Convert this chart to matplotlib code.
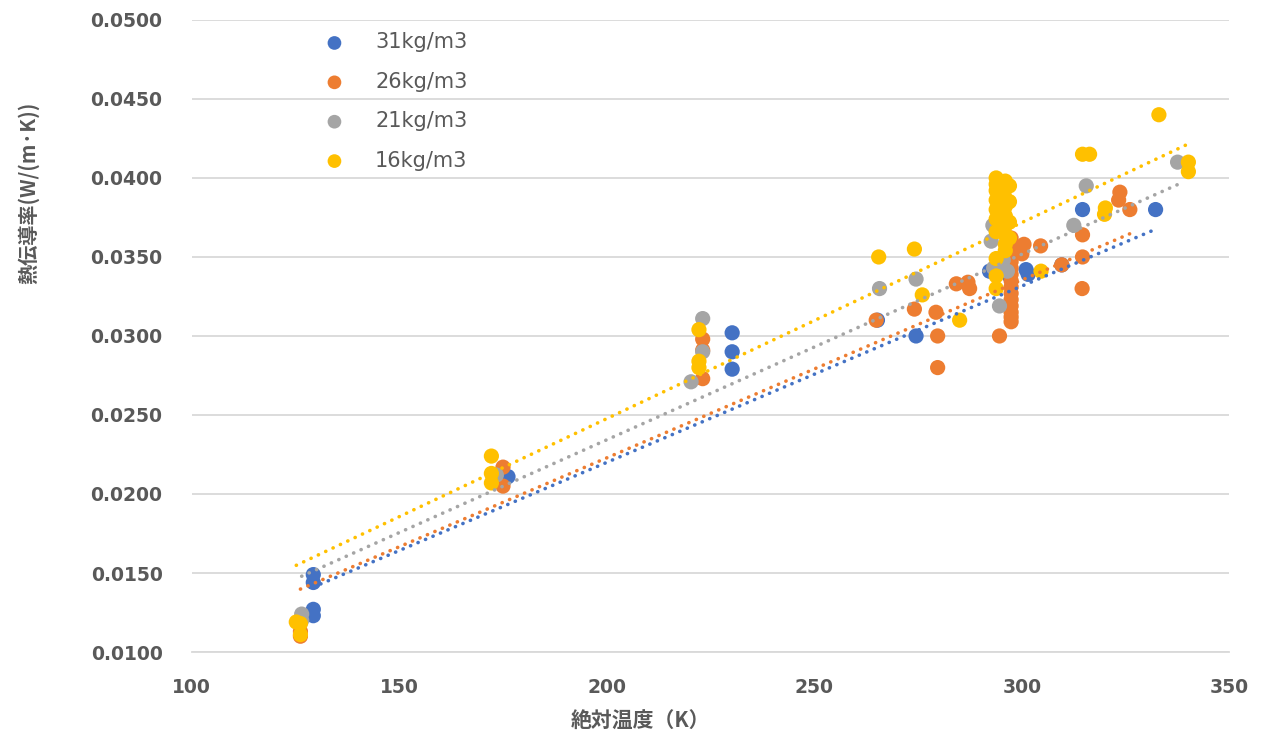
import matplotlib
matplotlib.use("Agg")
import matplotlib.pyplot as plt
import numpy as np

plt.rcParams["font.family"] = ["Noto Sans CJK JP", "DejaVu Sans"]

# ── Data ───────────────────────────────────────────────────────────────────
labels = ["31kg/m3", "26kg/m3", "21kg/m3", "16kg/m3"]
colors = ["#4472C4", "#ED7D31", "#A5A5A5", "#FFC000"]

x31 = [129.3, 129.3, 129.3, 129.3, 176.2, 230.2, 230.2, 230.2, 265.2, 274.5,
       292.2, 297.0, 301.0, 301.5, 309.6, 314.6, 332.2]
y31 = [0.0149, 0.0144, 0.0127, 0.0123, 0.0211, 0.0302, 0.0290, 0.0279, 0.0310, 0.0300,
       0.0341, 0.0338, 0.0342, 0.0339, 0.0345, 0.0380, 0.0380]

x26 = [126.2, 126.2, 175.0, 175.0, 223.1, 223.1, 223.1, 264.9, 274.1, 279.3,
       279.7, 279.7, 284.2, 287.0, 287.4, 294.6,
       297.4, 297.4, 297.4, 297.4, 297.4, 297.4, 297.4, 297.4, 297.4, 297.4,
       297.4, 297.4, 297.4, 297.4,
       300.5, 300.0, 304.5, 309.6, 314.6, 314.6, 314.5, 323.6, 323.3, 326.0]
y26 = [0.0110, 0.0113, 0.0217, 0.0205, 0.0298, 0.0273, 0.0291, 0.0310, 0.0317, 0.0315,
       0.0300, 0.0280, 0.0333, 0.0334, 0.0330, 0.0300,
       0.0362, 0.0357, 0.0352, 0.0347, 0.0343, 0.0339, 0.0335, 0.0331, 0.0327, 0.0323,
       0.0319, 0.0315, 0.0312, 0.0309,
       0.0358, 0.0352, 0.0357, 0.0345, 0.0364, 0.0350, 0.0330, 0.0391, 0.0386, 0.0380]

x21 = [126.5, 126.5, 173.4, 220.3, 223.1, 223.1, 265.7, 274.5,
       294.6, 293.0, 292.6, 293.2, 296.5, 295.5, 312.5, 315.5, 337.5]
y21 = [0.0124, 0.0120, 0.0212, 0.0271, 0.0311, 0.0290, 0.0330, 0.0336,
       0.0319, 0.0370, 0.0360, 0.0343, 0.0341, 0.0348, 0.0370, 0.0395, 0.0410]

x16 = [125.2, 126.2, 126.2, 172.2, 172.2, 172.2, 222.2, 222.2, 222.2,
       265.5, 274.1, 276.0, 285.0,
       293.8, 293.8, 293.8, 293.8, 293.8, 293.8, 293.8, 293.8, 293.8, 293.8,
       296.0, 296.0, 296.0, 296.0, 296.0, 296.0, 296.0, 296.0, 296.0,
       297.0, 297.0, 297.0, 297.0,
       304.6, 314.6, 316.3, 320.1, 319.9, 333.0, 340.1, 340.1]
y16 = [0.0119, 0.0118, 0.0111, 0.0224, 0.0213, 0.0207, 0.0304, 0.0284, 0.0280,
       0.0350, 0.0355, 0.0326, 0.0310,
       0.0400, 0.0396, 0.0392, 0.0386, 0.0380, 0.0374, 0.0366, 0.0349, 0.0338, 0.0330,
       0.0398, 0.0393, 0.0387, 0.0382, 0.0376, 0.0370, 0.0364, 0.0358, 0.0354,
       0.0395, 0.0385, 0.0372, 0.0362,
       0.0341, 0.0415, 0.0415, 0.0381, 0.0377, 0.0440, 0.0410, 0.0404]

# linear trendlines (slope, intercept)
trend_slope = [1.116e-4, 1.1254e-4, 1.1745e-4, 1.241e-4]
trend_icpt = [-0.00032, -0.00022, -0.00006, -0.00005]

series = [(x31, y31), (x26, y26), (x21, y21), (x16, y16)]

x_ticks = [100, 150, 200, 250, 300, 350]
y_ticks = [0.0100, 0.0150, 0.0200, 0.0250, 0.0300, 0.0350, 0.0400, 0.0450, 0.0500]

# ── Figure ──────────────────────────────────────────────────────────────────
fig = plt.figure(figsize=(12.61, 7.38), dpi=100)
ax = fig.add_axes([0.152, 0.1165, 0.823, 0.8565])

grid_c = "#D9D9D9"
text_c = "#595959"

for (xs, ys), c, lbl in zip(series, colors, labels):
    ax.scatter(xs, ys, s=120, color=c, edgecolors="none", label=lbl, zorder=3)

# dotted trendlines over the markers, spanning each series' x range
for (xs, ys), c, k, b in zip(series, colors, trend_slope, trend_icpt):
    xx = np.array([min(xs), max(xs)])
    ax.plot(xx, k * xx + b, color=c, linewidth=2.6,
            linestyle=(0, (0.05, 2.2)), dash_capstyle="round", zorder=4)

# ── Axes ────────────────────────────────────────────────────────────────────
ax.set_xlim(100, 350)
ax.set_ylim(0.0100, 0.0500)
ax.set_xticks(x_ticks)
ax.set_yticks(y_ticks)
ax.set_xticklabels([str(v) for v in x_ticks])
ax.set_yticklabels([f"{v:.4f}" for v in y_ticks])
ax.tick_params(axis="both", length=0, labelcolor=text_c)
ax.tick_params(axis="y", pad=21)
ax.tick_params(axis="x", pad=19)
for t in ax.get_xticklabels() + ax.get_yticklabels():
    t.set_fontfamily("DejaVu Sans")
    t.set_fontweight("bold")
    t.set_fontsize(13.5)

ax.grid(axis="y", color=grid_c, linewidth=1.3, zorder=0)
ax.set_axisbelow(True)
for s in ["top", "right", "left"]:
    ax.spines[s].set_visible(False)
ax.spines["bottom"].set_color(grid_c)
ax.spines["bottom"].set_linewidth(1.3)

ax.set_xlabel("絶対温度（K）", fontsize=15, fontweight="bold", color=text_c)
ax.xaxis.set_label_coords((641 - 192) / 1038, -0.093)
ax.set_ylabel("熱伝導率(W/(m·K))", fontsize=14.5, fontweight="bold", color=text_c)
ax.yaxis.set_label_coords(-0.147, 0.726)

leg = ax.legend(loc="upper left", bbox_to_anchor=(0.1155, 1.0),
                frameon=False, prop={"family": "DejaVu Sans", "size": 15},
                labelspacing=0.93, handlelength=1.0, handletextpad=1.45,
                markerscale=0.9, borderaxespad=0.2)
for t in leg.get_texts():
    t.set_color(text_c)

fig.savefig("out.png", dpi=100, facecolor="white")
